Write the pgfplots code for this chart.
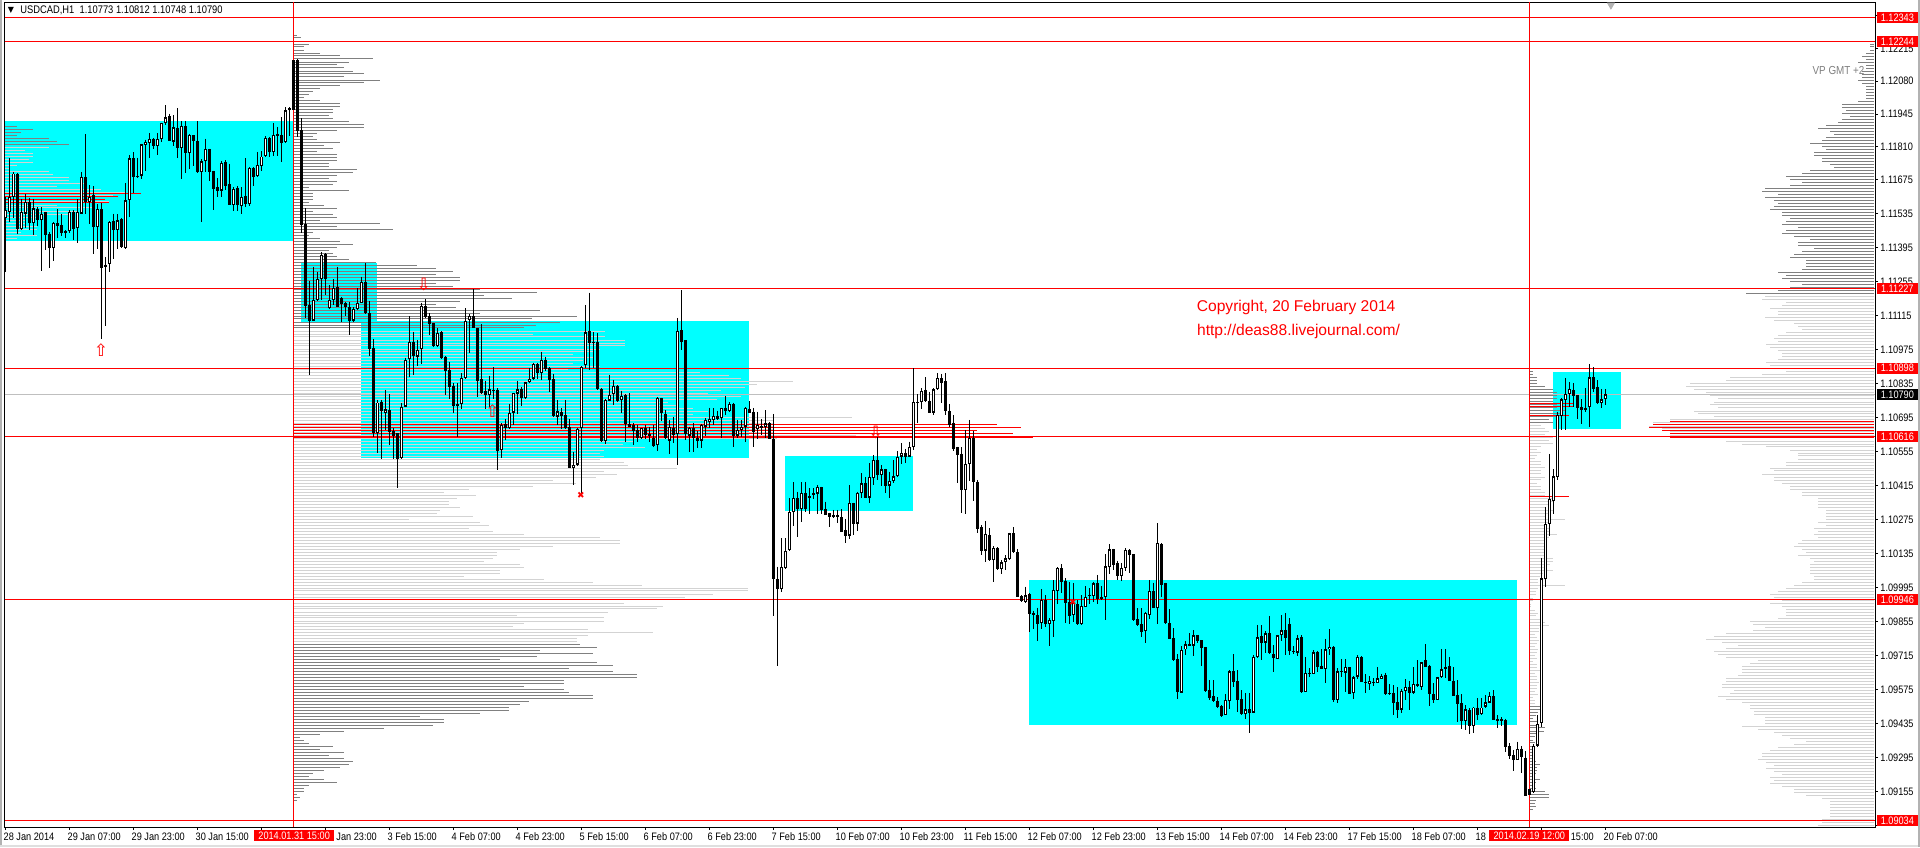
\documentclass[border=0pt]{standalone}
\usepackage{fontspec}
\usepackage{pgfplots}
\usepackage{pgfplotstable}
\pgfplotsset{compat=1.18}
\setmainfont[FakeStretch=0.85]{Liberation Sans}
\newfontfamily\plainf{Liberation Sans}
\newfontfamily\dej{DejaVu Sans}
\definecolor{profdark}{HTML}{808080}
\definecolor{proflight}{HTML}{D3D3D3}
\definecolor{boxcyan}{HTML}{00FFFF}
\definecolor{purered}{HTML}{FF0000}

% 1 px of the screenshot = 0.5pt, one H1 bar = 4 px
\pgfplotstableread{
i o h l c
0 1.11515 1.11604 1.11295 1.11549
1 1.11542 1.11762 1.11501 1.11604
2 1.11604 1.11707 1.11515 1.11700
3 1.11700 1.11703 1.11449 1.11471
4 1.11471 1.11597 1.11467 1.11540
5 1.11535 1.11615 1.11474 1.11584
6 1.11584 1.11601 1.11467 1.11496
7 1.11498 1.11597 1.11446 1.11556
8 1.11553 1.11563 1.11483 1.11508
9 1.11508 1.11563 1.11299 1.11535
10 1.11540 1.11542 1.11385 1.11446
11 1.11449 1.11460 1.11312 1.11394
12 1.11394 1.11501 1.11341 1.11498
13 1.11496 1.11553 1.11435 1.11485
14 1.11486 1.11533 1.11444 1.11457
15 1.11465 1.11467 1.11433 1.11457
16 1.11463 1.11549 1.11457 1.11540
17 1.11540 1.11549 1.11426 1.11471
18 1.11476 1.11593 1.11415 1.11540
19 1.11535 1.11707 1.11533 1.11686
20 1.11684 1.11862 1.11533 1.11581
21 1.11581 1.11652 1.11494 1.11604
22 1.11610 1.11648 1.11368 1.11481
23 1.11481 1.11574 1.11389 1.11552
24 1.11552 1.11579 1.11019 1.11312
25 1.11316 1.11357 1.11072 1.11325
26 1.11328 1.11504 1.11295 1.11501
27 1.11503 1.11535 1.11350 1.11468
28 1.11468 1.11533 1.11391 1.11507
29 1.11511 1.11515 1.11394 1.11397
30 1.11394 1.11659 1.11389 1.11589
31 1.11592 1.11776 1.11522 1.11762
32 1.11762 1.11788 1.11618 1.11686
33 1.11688 1.11765 1.11680 1.11685
34 1.11691 1.11822 1.11677 1.11820
35 1.11818 1.11840 1.11711 1.11828
36 1.11825 1.11865 1.11765 1.11844
37 1.11844 1.11847 1.11800 1.11813
38 1.11814 1.11865 1.11778 1.11844
39 1.11844 1.11909 1.11831 1.11906
40 1.11909 1.11982 1.11899 1.11931
41 1.11936 1.11947 1.11833 1.11835
42 1.11831 1.11940 1.11813 1.11890
43 1.11888 1.11969 1.11763 1.11806
44 1.11806 1.11917 1.11678 1.11894
45 1.11895 1.11917 1.11703 1.11785
46 1.11783 1.11861 1.11719 1.11857
47 1.11857 1.11858 1.11732 1.11835
48 1.11833 1.11916 1.11704 1.11707
49 1.11707 1.11758 1.11501 1.11750
50 1.11750 1.11844 1.11707 1.11799
51 1.11799 1.11802 1.11670 1.11707
52 1.11710 1.11712 1.11549 1.11637
53 1.11643 1.11680 1.11604 1.11627
54 1.11630 1.11752 1.11604 1.11744
55 1.11747 1.11755 1.11632 1.11648
56 1.11655 1.11741 1.11570 1.11571
57 1.11570 1.11643 1.11546 1.11638
58 1.11640 1.11649 1.11546 1.11570
59 1.11567 1.11643 1.11534 1.11605
60 1.11607 1.11762 1.11563 1.11574
61 1.11574 1.11725 1.11566 1.11722
62 1.11722 1.11725 1.11648 1.11686
63 1.11688 1.11789 1.11684 1.11737
64 1.11732 1.11792 1.11711 1.11770
65 1.11773 1.11854 1.11770 1.11846
66 1.11848 1.11851 1.11769 1.11789
67 1.11789 1.11906 1.11773 1.11857
68 1.11862 1.11892 1.11773 1.11854
69 1.11858 1.11931 1.11748 1.11826
70 1.11828 1.11972 1.11825 1.11960
71 1.11960 1.11972 1.11854 1.11968
72 1.12167 1.12167 1.11961 1.11961
73 1.12167 1.12170 1.11851 1.11876
74 1.11879 1.11927 1.11456 1.11487
75 1.11492 1.11556 1.11106 1.11155
76 1.11157 1.11258 1.10870 1.11094
77 1.11094 1.11317 1.11094 1.11179
78 1.11179 1.11296 1.11177 1.11264
79 1.11265 1.11376 1.11179 1.11364
80 1.11368 1.11372 1.11199 1.11265
81 1.11145 1.11241 1.11142 1.11179
82 1.11179 1.11264 1.11159 1.11230
83 1.11234 1.11317 1.11152 1.11152
84 1.11186 1.11193 1.11090 1.11163
85 1.11166 1.11172 1.11113 1.11152
86 1.11149 1.11172 1.11037 1.11094
87 1.11094 1.11149 1.11090 1.11142
88 1.11142 1.11227 1.11138 1.11166
89 1.11166 1.11275 1.11166 1.11255
90 1.11255 1.11330 1.11120 1.11124
91 1.11124 1.11177 1.10949 1.10978
92 1.10980 1.11017 1.10617 1.10630
93 1.10630 1.10768 1.10551 1.10757
94 1.10758 1.10768 1.10525 1.10720
95 1.10715 1.10809 1.10644 1.10729
96 1.10726 1.10792 1.10582 1.10637
97 1.10641 1.10651 1.10525 1.10619
98 1.10630 1.10630 1.10405 1.10525
99 1.10527 1.10754 1.10525 1.10740
100 1.10740 1.10942 1.10740 1.10932
101 1.10935 1.11113 1.10864 1.11005
102 1.11005 1.11049 1.10871 1.10949
103 1.10946 1.11015 1.10908 1.10973
104 1.10976 1.11168 1.10916 1.11155
105 1.11155 1.11182 1.11104 1.11108
106 1.11113 1.11124 1.11035 1.11080
107 1.11083 1.11086 1.10987 1.10990
108 1.10990 1.11063 1.10984 1.11045
109 1.11048 1.11050 1.10935 1.10939
110 1.10946 1.10949 1.10788 1.10888
111 1.10891 1.10925 1.10770 1.10820
112 1.10825 1.10836 1.10715 1.10743
113 1.10751 1.10836 1.10614 1.10743
114 1.10751 1.10877 1.10731 1.10857
115 1.10857 1.11145 1.10854 1.11094
116 1.11097 1.11120 1.10962 1.11113
117 1.11113 1.11223 1.11063 1.11064
118 1.11064 1.11065 1.10781 1.10844
119 1.10853 1.11080 1.10792 1.10795
120 1.10803 1.10847 1.10731 1.10788
121 1.10789 1.10868 1.10740 1.10811
122 1.10808 1.10902 1.10770 1.10806
123 1.10809 1.10816 1.10479 1.10558
124 1.10560 1.10671 1.10527 1.10666
125 1.10667 1.10688 1.10603 1.10654
126 1.10654 1.10751 1.10647 1.10713
127 1.10715 1.10795 1.10666 1.10795
128 1.10794 1.10847 1.10709 1.10811
129 1.10813 1.10822 1.10744 1.10777
130 1.10774 1.10843 1.10772 1.10840
131 1.10840 1.10898 1.10836 1.10855
132 1.10855 1.10921 1.10850 1.10914
133 1.10916 1.10921 1.10853 1.10877
134 1.10880 1.10967 1.10850 1.10932
135 1.10932 1.10946 1.10888 1.10894
136 1.10898 1.10902 1.10802 1.10850
137 1.10853 1.10875 1.10699 1.10703
138 1.10699 1.10768 1.10666 1.10720
139 1.10717 1.10733 1.10647 1.10702
140 1.10706 1.10768 1.10648 1.10654
141 1.10658 1.10688 1.10486 1.10489
142 1.10489 1.10555 1.10418 1.10499
143 1.10501 1.10651 1.10496 1.10647
144 1.10651 1.10908 1.10370 1.10905
145 1.10910 1.11159 1.10898 1.11046
146 1.11050 1.11209 1.10891 1.11004
147 1.11005 1.11046 1.10898 1.11004
148 1.11005 1.11045 1.10809 1.10811
149 1.10811 1.10816 1.10596 1.10600
150 1.10597 1.10770 1.10585 1.10768
151 1.10765 1.10871 1.10762 1.10787
152 1.10792 1.10850 1.10747 1.10825
153 1.10825 1.10829 1.10761 1.10763
154 1.10768 1.10806 1.10715 1.10784
155 1.10788 1.10792 1.10596 1.10667
156 1.10667 1.10795 1.10658 1.10658
157 1.10665 1.10671 1.10580 1.10641
158 1.10644 1.10665 1.10596 1.10610
159 1.10610 1.10651 1.10607 1.10651
160 1.10651 1.10665 1.10607 1.10623
161 1.10627 1.10655 1.10596 1.10619
162 1.10612 1.10665 1.10575 1.10578
163 1.10582 1.10778 1.10557 1.10774
164 1.10774 1.10777 1.10682 1.10713
165 1.10708 1.10726 1.10606 1.10610
166 1.10600 1.10685 1.10545 1.10655
167 1.10654 1.10699 1.10592 1.10623
168 1.10626 1.11105 1.10499 1.11051
169 1.11055 1.11220 1.10973 1.11006
170 1.11014 1.11014 1.10602 1.10627
171 1.10621 1.10658 1.10555 1.10654
172 1.10654 1.10671 1.10555 1.10610
173 1.10612 1.10641 1.10570 1.10600
174 1.10600 1.10669 1.10568 1.10665
175 1.10658 1.10692 1.10619 1.10685
176 1.10677 1.10736 1.10651 1.10688
177 1.10685 1.10733 1.10665 1.10702
178 1.10702 1.10724 1.10685 1.10689
179 1.10692 1.10736 1.10610 1.10735
180 1.10735 1.10784 1.10706 1.10724
181 1.10724 1.10758 1.10719 1.10751
182 1.10751 1.10757 1.10575 1.10619
183 1.10621 1.10685 1.10610 1.10644
184 1.10644 1.10685 1.10617 1.10655
185 1.10658 1.10737 1.10596 1.10735
186 1.10729 1.10763 1.10713 1.10715
187 1.10718 1.10735 1.10575 1.10637
188 1.10647 1.10719 1.10606 1.10665
189 1.10660 1.10688 1.10623 1.10654
190 1.10655 1.10726 1.10610 1.10671
191 1.10671 1.10678 1.10606 1.10606
192 1.10606 1.10710 1.09878 1.10029
193 1.10029 1.10081 1.09674 1.09988
194 1.09988 1.10198 1.09978 1.10078
195 1.10077 1.10198 1.10072 1.10147
196 1.10150 1.10363 1.10147 1.10305
197 1.10305 1.10428 1.10249 1.10363
198 1.10363 1.10390 1.10205 1.10319
199 1.10319 1.10428 1.10265 1.10383
200 1.10383 1.10428 1.10305 1.10317
201 1.10372 1.10404 1.10298 1.10365
202 1.10383 1.10404 1.10358 1.10376
203 1.10382 1.10418 1.10298 1.10408
204 1.10408 1.10411 1.10298 1.10315
205 1.10317 1.10349 1.10294 1.10295
206 1.10301 1.10304 1.10246 1.10287
207 1.10293 1.10315 1.10280 1.10286
208 1.10290 1.10315 1.10262 1.10287
209 1.10284 1.10317 1.10225 1.10225
210 1.10231 1.10278 1.10180 1.10209
211 1.10209 1.10417 1.10195 1.10342
212 1.10342 1.10345 1.10212 1.10257
213 1.10258 1.10390 1.10229 1.10383
214 1.10383 1.10466 1.10363 1.10424
215 1.10424 1.10449 1.10363 1.10365
216 1.10365 1.10507 1.10345 1.10449
217 1.10445 1.10541 1.10418 1.10520
218 1.10520 1.10616 1.10438 1.10459
219 1.10460 1.10500 1.10413 1.10482
220 1.10483 1.10485 1.10386 1.10415
221 1.10415 1.10472 1.10365 1.10433
222 1.10433 1.10520 1.10427 1.10453
223 1.10453 1.10557 1.10449 1.10534
224 1.10534 1.10589 1.10504 1.10548
225 1.10548 1.10566 1.10509 1.10534
226 1.10534 1.10596 1.10531 1.10575
227 1.10573 1.10898 1.10562 1.10758
228 1.10758 1.10792 1.10674 1.10757
229 1.10758 1.10816 1.10730 1.10806
230 1.10809 1.10861 1.10761 1.10765
231 1.10763 1.10802 1.10713 1.10715
232 1.10715 1.10816 1.10706 1.10811
233 1.10811 1.10877 1.10809 1.10857
234 1.10857 1.10875 1.10757 1.10839
235 1.10846 1.10877 1.10706 1.10724
236 1.10722 1.10751 1.10655 1.10665
237 1.10671 1.10706 1.10559 1.10566
238 1.10573 1.10575 1.10424 1.10542
239 1.10545 1.10573 1.10304 1.10397
240 1.10398 1.10644 1.10298 1.10503
241 1.10503 1.10685 1.10435 1.10611
242 1.10611 1.10641 1.10353 1.10431
243 1.10430 1.10438 1.10221 1.10238
244 1.10243 1.10252 1.10129 1.10147
245 1.10147 1.10270 1.10101 1.10214
246 1.10211 1.10239 1.10106 1.10108
247 1.10108 1.10166 1.10019 1.10156
248 1.10156 1.10160 1.10067 1.10071
249 1.10071 1.10108 1.10051 1.10099
250 1.10099 1.10129 1.10067 1.10115
251 1.10111 1.10221 1.10108 1.10218
252 1.10218 1.10243 1.10136 1.10140
253 1.10140 1.10154 1.09955 1.09957
254 1.09960 1.09964 1.09937 1.09939
255 1.09937 1.09999 1.09933 1.09963
256 1.09968 1.09971 1.09813 1.09886
257 1.09890 1.09900 1.09823 1.09882
258 1.09880 1.09912 1.09776 1.09846
259 1.09849 1.09988 1.09826 1.09944
260 1.09944 1.09963 1.09834 1.09845
261 1.09846 1.09868 1.09756 1.09860
262 1.09859 1.10026 1.09793 1.09985
263 1.09982 1.10078 1.09927 1.10074
264 1.10074 1.10092 1.09974 1.10019
265 1.10022 1.10033 1.09848 1.09933
266 1.09934 1.10016 1.09845 1.09879
267 1.09883 1.10012 1.09854 1.09930
268 1.09927 1.09944 1.09841 1.09845
269 1.09845 1.09964 1.09841 1.09920
270 1.09916 1.10001 1.09913 1.09957
271 1.09963 1.09992 1.09927 1.09964
272 1.09961 1.10019 1.09934 1.10012
273 1.10012 1.10047 1.09927 1.09948
274 1.09955 1.10001 1.09944 1.09948
275 1.09957 1.10133 1.09861 1.10082
276 1.10078 1.10174 1.10051 1.10152
277 1.10152 1.10155 1.10067 1.10089
278 1.10096 1.10106 1.10026 1.10044
279 1.10044 1.10097 1.10023 1.10074
280 1.10077 1.10156 1.10064 1.10148
281 1.10148 1.10152 1.10056 1.10130
282 1.10132 1.10133 1.09858 1.09861
283 1.09865 1.09909 1.09837 1.09842
284 1.09843 1.09909 1.09793 1.09813
285 1.09815 1.09896 1.09768 1.09889
286 1.09883 1.10026 1.09864 1.09979
287 1.09979 1.10015 1.09909 1.09912
288 1.09909 1.10259 1.09845 1.10177
289 1.10173 1.10177 1.09957 1.10007
290 1.10012 1.10015 1.09845 1.09848
291 1.09848 1.09905 1.09782 1.09784
292 1.09786 1.09827 1.09694 1.09697
293 1.09701 1.09720 1.09536 1.09566
294 1.09562 1.09754 1.09559 1.09736
295 1.09740 1.09773 1.09719 1.09761
296 1.09761 1.09806 1.09754 1.09756
297 1.09756 1.09819 1.09713 1.09798
298 1.09798 1.09800 1.09765 1.09776
299 1.09778 1.09779 1.09672 1.09747
300 1.09750 1.09751 1.09566 1.09569
301 1.09572 1.09614 1.09532 1.09541
302 1.09547 1.09614 1.09525 1.09528
303 1.09526 1.09543 1.09498 1.09504
304 1.09507 1.09510 1.09463 1.09466
305 1.09471 1.09557 1.09469 1.09530
306 1.09526 1.09655 1.09493 1.09650
307 1.09650 1.09720 1.09587 1.09607
308 1.09609 1.09655 1.09481 1.09532
309 1.09535 1.09573 1.09470 1.09476
310 1.09476 1.09559 1.09454 1.09493
311 1.09493 1.09559 1.09397 1.09477
312 1.09480 1.09717 1.09477 1.09708
313 1.09710 1.09841 1.09706 1.09790
314 1.09794 1.09839 1.09697 1.09768
315 1.09768 1.09815 1.09727 1.09806
316 1.09806 1.09878 1.09720 1.09724
317 1.09720 1.09758 1.09649 1.09705
318 1.09702 1.09800 1.09699 1.09798
319 1.09798 1.09882 1.09775 1.09819
320 1.09819 1.09889 1.09717 1.09788
321 1.09845 1.09868 1.09717 1.09735
322 1.09732 1.09754 1.09720 1.09731
323 1.09727 1.09800 1.09713 1.09786
324 1.09790 1.09798 1.09562 1.09563
325 1.09566 1.09710 1.09563 1.09645
326 1.09645 1.09662 1.09625 1.09639
327 1.09641 1.09737 1.09639 1.09728
328 1.09728 1.09733 1.09648 1.09669
329 1.09674 1.09740 1.09659 1.09661
330 1.09661 1.09785 1.09603 1.09740
331 1.09740 1.09823 1.09717 1.09752
332 1.09752 1.09754 1.09525 1.09534
333 1.09534 1.09662 1.09521 1.09650
334 1.09650 1.09700 1.09625 1.09651
335 1.09645 1.09699 1.09566 1.09666
336 1.09666 1.09667 1.09556 1.09556
337 1.09559 1.09630 1.09536 1.09625
338 1.09628 1.09717 1.09619 1.09707
339 1.09707 1.09713 1.09606 1.09607
340 1.09608 1.09637 1.09562 1.09602
341 1.09599 1.09630 1.09573 1.09612
342 1.09607 1.09621 1.09589 1.09600
343 1.09604 1.09666 1.09601 1.09621
344 1.09619 1.09641 1.09617 1.09632
345 1.09633 1.09645 1.09552 1.09556
346 1.09559 1.09597 1.09551 1.09558
347 1.09559 1.09593 1.09470 1.09521
348 1.09523 1.09584 1.09459 1.09492
349 1.09492 1.09578 1.09479 1.09571
350 1.09570 1.09617 1.09532 1.09584
351 1.09584 1.09611 1.09490 1.09562
352 1.09562 1.09667 1.09558 1.09596
353 1.09596 1.09696 1.09586 1.09591
354 1.09586 1.09689 1.09573 1.09687
355 1.09696 1.09761 1.09666 1.09669
356 1.09674 1.09676 1.09507 1.09556
357 1.09556 1.09600 1.09521 1.09533
358 1.09534 1.09628 1.09532 1.09625
359 1.09625 1.09740 1.09622 1.09658
360 1.09666 1.09741 1.09621 1.09659
361 1.09670 1.09707 1.09610 1.09611
362 1.09610 1.09666 1.09547 1.09549
363 1.09552 1.09614 1.09442 1.09516
364 1.09518 1.09555 1.09412 1.09446
365 1.09446 1.09511 1.09408 1.09493
366 1.09490 1.09497 1.09392 1.09426
367 1.09426 1.09504 1.09397 1.09501
368 1.09501 1.09540 1.09449 1.09471
369 1.09475 1.09541 1.09470 1.09501
370 1.09504 1.09551 1.09501 1.09522
371 1.09521 1.09564 1.09518 1.09548
372 1.09548 1.09573 1.09449 1.09449
373 1.09452 1.09470 1.09416 1.09445
374 1.09452 1.09460 1.09424 1.09445
375 1.09448 1.09455 1.09317 1.09339
376 1.09341 1.09354 1.09291 1.09302
377 1.09304 1.09326 1.09241 1.09286
378 1.09286 1.09361 1.09285 1.09332
379 1.09332 1.09342 1.09230 1.09298
380 1.09295 1.09320 1.09136 1.09136
381 1.09164 1.09164 1.09140 1.09142
382 1.09154 1.09350 1.09151 1.09342
383 1.09344 1.09470 1.09339 1.09435
384 1.09438 1.10117 1.09422 1.10033
385 1.10029 1.10327 1.09998 1.10257
386 1.10257 1.10545 1.10208 1.10359
387 1.10352 1.10483 1.10298 1.10453
388 1.10451 1.10718 1.10438 1.10705
389 1.10702 1.10775 1.10644 1.10770
390 1.10767 1.10858 1.10644 1.10792
391 1.10792 1.10841 1.10738 1.10812
392 1.10807 1.10837 1.10738 1.10785
393 1.10788 1.10788 1.10689 1.10735
394 1.10738 1.10771 1.10668 1.10727
395 1.10733 1.10816 1.10718 1.10727
396 1.10737 1.10915 1.10657 1.10860
397 1.10860 1.10903 1.10800 1.10812
398 1.10819 1.10849 1.10750 1.10753
399 1.10756 1.10812 1.10734 1.10770
400 1.10773 1.10812 1.10748 1.10790
}\candles

% volume profile opened 31 Jan 15:00, rows top to bottom: price, length in px
\pgfplotstableread{
p v
1.12270 4
1.12258 8
1.12245 16
1.12233 16
1.12221 11
1.12208 11
1.12196 27
1.12184 47
1.12172 80
1.12159 56
1.12147 44
1.12135 51
1.12122 60
1.12110 71
1.12098 51
1.12085 87
1.12073 71
1.12061 47
1.12048 27
1.12036 20
1.12024 16
1.12011 11
1.11999 27
1.11987 47
1.11975 47
1.11962 40
1.11950 40
1.11938 36
1.11925 40
1.11913 56
1.11901 71
1.11888 71
1.11876 44
1.11864 24
1.11851 20
1.11839 24
1.11827 47
1.11815 31
1.11802 40
1.11790 24
1.11778 44
1.11765 44
1.11753 44
1.11741 36
1.11728 36
1.11716 64
1.11704 60
1.11691 44
1.11679 36
1.11667 44
1.11655 40
1.11642 16
1.11630 56
1.11618 20
1.11605 20
1.11593 20
1.11581 16
1.11568 31
1.11556 44
1.11544 20
1.11531 40
1.11519 44
1.11507 27
1.11495 87
1.11482 44
1.11470 100
1.11458 20
1.11445 16
1.11433 27
1.11421 47
1.11408 60
1.11396 44
1.11384 36
1.11371 40
1.11359 44
1.11347 56
1.11335 83
1.11322 124
1.11310 143
1.11298 160
1.11285 143
1.11273 167
1.11261 167
1.11248 143
1.11236 160
1.11224 187
1.11211 244
1.11199 191
1.11187 219
1.11174 167
1.11162 143
1.11150 163
1.11137 247
1.11125 187
1.11113 284
1.11101 239
1.11088 267
1.11076 243
1.11064 231
1.11051 312
1.11039 240
1.11027 312
1.11014 332
1.11002 332
1.10990 332
1.10977 307
1.10965 300
1.10953 280
1.10941 300
1.10928 290
1.10916 280
1.10904 307
1.10891 275
1.10879 407
1.10867 436
1.10854 448
1.10842 500
1.10830 464
1.10817 452
1.10805 428
1.10793 415
1.10781 448
1.10768 424
1.10756 375
1.10744 383
1.10731 400
1.10719 415
1.10707 400
1.10694 559
1.10682 480
1.10670 480
1.10657 480
1.10645 480
1.10633 480
1.10621 563
1.10608 484
1.10596 340
1.10584 330
1.10571 352
1.10559 311
1.10547 307
1.10534 311
1.10522 307
1.10510 331
1.10497 335
1.10485 384
1.10473 311
1.10461 324
1.10448 303
1.10436 260
1.10424 283
1.10411 240
1.10399 176
1.10387 151
1.10374 183
1.10362 164
1.10350 156
1.10337 156
1.10325 167
1.10313 147
1.10301 144
1.10288 180
1.10276 116
1.10264 187
1.10251 196
1.10239 176
1.10227 200
1.10214 231
1.10202 307
1.10190 327
1.10177 327
1.10165 260
1.10153 227
1.10141 204
1.10128 204
1.10116 200
1.10104 191
1.10091 227
1.10079 231
1.10067 207
1.10054 207
1.10042 171
1.10030 251
1.10017 300
1.10005 349
1.09993 455
1.09981 455
1.09968 420
1.09956 392
1.09944 427
1.09931 331
1.09919 370
1.09907 364
1.09894 315
1.09882 224
1.09870 311
1.09857 311
1.09845 231
1.09833 220
1.09821 295
1.09808 360
1.09796 295
1.09784 284
1.09771 284
1.09759 287
1.09747 304
1.09734 247
1.09722 300
1.09710 244
1.09697 207
1.09685 304
1.09673 320
1.09661 276
1.09648 320
1.09636 344
1.09624 344
1.09611 271
1.09599 271
1.09587 231
1.09574 271
1.09562 276
1.09550 300
1.09537 300
1.09525 236
1.09513 227
1.09501 216
1.09488 216
1.09476 187
1.09464 127
1.09451 151
1.09439 151
1.09427 140
1.09414 91
1.09402 51
1.09390 27
1.09377 7
1.09365 11
1.09353 16
1.09341 40
1.09328 27
1.09316 51
1.09304 36
1.09291 51
1.09279 60
1.09267 56
1.09254 47
1.09242 31
1.09230 20
1.09217 16
1.09205 31
1.09193 44
1.09181 16
1.09168 11
1.09156 11
1.09144 4
1.09131 7
1.09119 4
}\profa

% whole-range profile at the right edge
\pgfplotstableread{
p v
1.12233 4
1.12221 4
1.12208 4
1.12196 8
1.12183 12
1.12171 8
1.12159 16
1.12146 8
1.12134 8
1.12122 12
1.12109 12
1.12097 12
1.12084 16
1.12072 12
1.12060 8
1.12047 8
1.12035 8
1.12022 8
1.12010 8
1.11998 16
1.11985 32
1.11973 32
1.11961 28
1.11948 32
1.11936 24
1.11923 32
1.11911 36
1.11899 48
1.11886 56
1.11874 44
1.11861 40
1.11849 48
1.11837 52
1.11824 64
1.11812 52
1.11800 48
1.11787 60
1.11775 60
1.11762 52
1.11750 52
1.11738 44
1.11725 40
1.11713 64
1.11701 72
1.11688 88
1.11676 84
1.11663 72
1.11651 84
1.11639 109
1.11626 112
1.11614 96
1.11601 109
1.11589 100
1.11577 96
1.11564 100
1.11552 104
1.11540 92
1.11527 92
1.11515 84
1.11502 88
1.11490 92
1.11478 76
1.11465 88
1.11453 92
1.11440 80
1.11428 64
1.11416 76
1.11403 76
1.11391 60
1.11379 72
1.11366 80
1.11354 84
1.11341 68
1.11329 68
1.11317 68
1.11304 72
1.11292 96
1.11280 88
1.11267 92
1.11255 84
1.11242 72
1.11230 84
1.11218 96
1.11205 128
1.11193 109
1.11181 112
1.11168 88
1.11156 92
1.11143 104
1.11131 96
1.11119 96
1.11106 109
1.11094 100
1.11081 80
1.11069 76
1.11057 72
1.11044 88
1.11032 96
1.11019 100
1.11007 96
1.10995 108
1.10982 104
1.10970 96
1.10958 92
1.10945 92
1.10933 96
1.10920 108
1.10908 104
1.10896 96
1.10883 88
1.10871 112
1.10859 144
1.10846 148
1.10834 184
1.10821 188
1.10809 180
1.10797 168
1.10784 164
1.10772 156
1.10759 160
1.10747 164
1.10735 156
1.10722 180
1.10710 176
1.10698 160
1.10685 204
1.10673 221
1.10660 225
1.10648 212
1.10636 204
1.10623 204
1.10611 168
1.10598 148
1.10586 132
1.10574 108
1.10561 84
1.10549 76
1.10537 76
1.10524 76
1.10512 88
1.10499 88
1.10487 104
1.10475 100
1.10462 112
1.10450 100
1.10437 100
1.10425 92
1.10413 84
1.10400 84
1.10388 72
1.10376 72
1.10363 56
1.10351 56
1.10338 56
1.10326 56
1.10314 48
1.10301 48
1.10289 48
1.10277 48
1.10264 56
1.10252 48
1.10239 60
1.10227 56
1.10215 60
1.10202 56
1.10190 72
1.10177 76
1.10165 80
1.10153 72
1.10140 68
1.10128 76
1.10116 64
1.10103 60
1.10091 64
1.10078 64
1.10066 64
1.10054 64
1.10041 60
1.10029 60
1.10017 72
1.10004 80
1.09992 88
1.09979 96
1.09967 104
1.09955 100
1.09942 92
1.09930 104
1.09918 92
1.09905 88
1.09893 88
1.09880 88
1.09868 96
1.09856 124
1.09843 121
1.09831 109
1.09818 121
1.09806 148
1.09794 160
1.09781 168
1.09769 152
1.09757 136
1.09744 148
1.09732 160
1.09719 156
1.09707 148
1.09695 116
1.09682 124
1.09670 132
1.09657 132
1.09645 132
1.09633 136
1.09620 148
1.09608 148
1.09596 152
1.09583 152
1.09571 140
1.09558 144
1.09546 156
1.09534 148
1.09521 132
1.09509 124
1.09497 124
1.09484 120
1.09472 120
1.09459 109
1.09447 109
1.09435 109
1.09422 132
1.09410 116
1.09398 100
1.09385 92
1.09373 84
1.09360 68
1.09348 80
1.09336 96
1.09323 104
1.09311 112
1.09298 112
1.09286 116
1.09274 108
1.09261 100
1.09249 108
1.09237 100
1.09224 92
1.09212 104
1.09199 100
1.09187 104
1.09175 92
1.09162 80
1.09150 80
1.09137 68
1.09125 52
1.09113 44
1.09100 44
1.09088 44
1.09076 44
1.09063 44
1.09051 44
1.09038 52
1.09026 52
1.09014 56
}\profc

% small profile opened 19 Feb 12:00
\pgfplotstableread{
p v
1.10886 4
1.10874 4
1.10861 8
1.10849 8
1.10836 8
1.10824 16
1.10811 24
1.10799 28
1.10786 28
1.10774 28
1.10762 24
1.10749 28
1.10737 28
1.10724 36
1.10712 32
1.10699 28
1.10687 20
1.10674 24
1.10662 12
1.10649 16
1.10637 20
1.10625 16
1.10612 24
1.10600 20
1.10587 24
1.10575 12
1.10562 8
1.10550 12
1.10537 8
1.10525 6
1.10513 12
1.10500 12
1.10488 16
1.10475 12
1.10463 12
1.10450 16
1.10438 12
1.10425 8
1.10413 12
1.10400 12
1.10388 16
1.10376 16
1.10363 24
1.10351 24
1.10338 20
1.10326 16
1.10313 24
1.10301 20
1.10288 16
1.10276 36
1.10264 20
1.10251 16
1.10239 20
1.10226 20
1.10214 28
1.10201 20
1.10189 16
1.10176 16
1.10164 16
1.10151 16
1.10139 16
1.10127 16
1.10114 24
1.10102 24
1.10089 21
1.10077 17
1.10064 24
1.10052 14
1.10039 11
1.10027 9
1.10015 9
1.10002 36
1.09990 9
1.09977 7
1.09965 7
1.09952 4
1.09940 4
1.09927 2
1.09915 2
1.09902 6
1.09890 9
1.09878 7
1.09865 11
1.09853 16
1.09840 20
1.09828 10
1.09815 10
1.09803 6
1.09790 8
1.09778 10
1.09766 8
1.09753 6
1.09741 9
1.09728 8
1.09716 6
1.09703 8
1.09691 4
1.09678 8
1.09666 8
1.09653 11
1.09641 6
1.09629 8
1.09616 8
1.09604 10
1.09591 8
1.09579 8
1.09566 6
1.09554 9
1.09541 4
1.09529 6
1.09517 6
1.09504 11
1.09492 11
1.09479 9
1.09467 7
1.09454 4
1.09442 9
1.09429 9
1.09417 16
1.09404 15
1.09392 9
1.09380 6
1.09367 4
1.09355 6
1.09342 4
1.09330 4
1.09317 4
1.09305 4
1.09292 4
1.09280 7
1.09268 11
1.09255 8
1.09243 8
1.09230 7
1.09218 6
1.09205 11
1.09193 7
1.09180 6
1.09168 7
1.09155 16
1.09143 20
1.09131 20
1.09118 7
1.09106 6
1.09093 7
1.09081 4
}\profb

% profile of the first days, at the left edge
\pgfplotstableread{
p v
1.11895 12
1.11883 28
1.11870 16
1.11858 12
1.11845 44
1.11833 52
1.11820 64
1.11808 44
1.11795 20
1.11783 28
1.11770 28
1.11758 24
1.11745 28
1.11733 12
1.11720 4
1.11708 44
1.11695 48
1.11683 64
1.11670 64
1.11658 80
1.11645 52
1.11633 96
1.11620 120
1.11608 108
1.11595 100
1.11583 104
1.11570 52
1.11558 88
1.11545 72
1.11533 64
1.11520 32
1.11508 20
1.11495 20
1.11483 32
1.11470 32
1.11458 16
1.11445 32
1.11433 12
}\profz

% point of control rows (red): price, length in px
\pgfplotstableread{
p v
1.11618 136
1.11606 113
1.11593 100
1.11581 104
}\redz
\pgfplotstableread{
p v
1.10667 704
1.10655 728
1.10642 684
1.10630 720
1.10618 740
1.10613 740
}\reda
\pgfplotstableread{
p v
1.10752 44
1.10739 44
1.10704 40
1.10370 40
}\redb
\pgfplotstableread{
p v
1.10679 204
1.10667 221
1.10655 225
1.10642 212
1.10630 204
1.10618 204
1.10613 204
}\redc

% one path per series (with gaps), one path per segment runs out of memory
\def\wickpath{}\def\bodypath{}\def\hollowpath{}
\pgfplotsforeachungrouped \rr in {0,...,400}{%
  \pgfplotstablegetelem{\rr}{o}\of\candles\let\cO\pgfplotsretval
  \pgfplotstablegetelem{\rr}{h}\of\candles\let\cH\pgfplotsretval
  \pgfplotstablegetelem{\rr}{l}\of\candles\let\cL\pgfplotsretval
  \pgfplotstablegetelem{\rr}{c}\of\candles\let\cC\pgfplotsretval
  \edef\wickpath{\wickpath(\rr,\cH)(\rr,\cL)(\rr,nan)}%
  \pgfmathsetmacro\cD{abs(\cO-\cC)}%
  \pgfmathtruncatemacro\isdoji{\cD<0.00004}%
  \ifnum\isdoji=1
    \pgfmathsetmacro\bA{max(\cO,\cC)+0.00002}%
    \pgfmathsetmacro\bB{min(\cO,\cC)-0.00002}%
  \else
    \let\bA\cO\let\bB\cC
  \fi
  \edef\bodypath{\bodypath(\rr,\bA)(\rr,\bB)(\rr,nan)}%
  \pgfmathtruncatemacro\ishollow{\cC-\cO>0.00009}%
  \ifnum\ishollow=1
    \pgfmathsetmacro\bA{\cC-0.00004}%
    \pgfmathsetmacro\bB{\cO+0.00004}%
    \edef\hollowpath{\hollowpath(\rr,\bA)(\rr,\bB)(\rr,nan)}%
  \fi
}
% rows of a profile: #1 result, #2 table, #3 x of the base, #4 + or -, #5 #6 first and last row
\newcommand\buildrows[6]{%
  \def#1{}%
  \pgfplotsforeachungrouped \rr in {#5,...,#6}{%
    \pgfplotstablegetelem{\rr}{p}\of#2\let\pP\pgfplotsretval
    \pgfplotstablegetelem{\rr}{v}\of#2%
    \pgfmathsetmacro\xE{#3#4\pgfplotsretval/4}%
    \edef#1{#1(#3,\pP)(\xE,\pP)(#3,nan)}%
  }%
}
\buildrows\zDark\profz{-0.2}{+}{0}{6}
\buildrows\zLight\profz{-0.2}{+}{7}{37}
\buildrows\aDarkA\profa{72}{+}{0}{98}
\buildrows\aLight\profa{72}{+}{99}{203}
\buildrows\aDarkB\profa{72}{+}{204}{256}
\buildrows\bDarkA\profb{381}{+}{0}{17}
\buildrows\bLight\profb{381}{+}{18}{110}
\buildrows\bDarkB\profb{381}{+}{111}{145}
\buildrows\cDark\profc{467.2}{-}{0}{83}
\buildrows\cLight\profc{467.2}{-}{84}{260}
\buildrows\zRed\redz{-0.2}{+}{0}{3}
\buildrows\aRed\reda{72}{+}{0}{5}
\buildrows\bRed\redb{381}{+}{0}{3}
\buildrows\cRed\redc{467.2}{-}{0}{6}
\newcommand\segplot[3]{%
  \edef\tmpplot{\noexpand\addplot[forget plot, mark=none, unbounded coords=jump, color=#1, line width=#2] coordinates {#3};}%
  \tmpplot
}

\pgfplotsset{
  cbox/.style={fill=boxcyan, draw=none, forget plot},
  hline/.style={color=purered, line width=0.5pt, forget plot},
}

\begin{document}
\begin{tikzpicture}
\path[use as bounding box, fill=white] (0,0) rectangle (960pt,423.5pt);
\fill[gray!60] (0,0) rectangle (1pt,423.5pt);
\fill[gray!25] (0,0) rectangle (960pt,1pt);
\fill[gray!60] (959.2pt,0) rectangle (960pt,423.5pt);
\begin{axis}[
  at={(2.25pt,10pt)}, anchor=south west, scale only axis,
  width=935.25pt, height=412.35pt,
  xmin=-0.21, xmax=467.42, ymin=1.09009, ymax=1.12405,
  clip mode=individual,
  axis line style={line width=0.5pt},
  tick style={black, line width=0.5pt},
  tick align=outside, major tick length=1.5pt,
  xtick pos=lower, ytick pos=right, yticklabel pos=right,
  xtick={0,16,...,400},
  xticklabels={28 Jan 2014,29 Jan 07:00,29 Jan 23:00,30 Jan 15:00,,31 Jan 23:00,3 Feb 15:00,4 Feb 07:00,4 Feb 23:00,5 Feb 15:00,6 Feb 07:00,6 Feb 23:00,7 Feb 15:00,10 Feb 07:00,10 Feb 23:00,11 Feb 15:00,12 Feb 07:00,12 Feb 23:00,13 Feb 15:00,14 Feb 07:00,14 Feb 23:00,17 Feb 15:00,18 Feb 07:00,18 Feb 23:00,19 Feb 15:00,20 Feb 07:00},
  x tick label style={font=\fontsize{5.4pt}{6pt}\selectfont, anchor=north west, inner sep=0pt, xshift=-1pt, yshift=-1.3pt},
  ytick={1.09015,1.09155,1.09295,1.09435,1.09575,1.09715,1.09855,1.09995,1.10135,1.10275,1.10415,1.10555,1.10695,1.10835,1.10975,1.11115,1.11255,1.11395,1.11535,1.11675,1.11810,1.11945,1.12080,1.12215,1.12350},
  yticklabels={,1.09155,1.09295,1.09435,1.09575,1.09715,1.09855,1.09995,1.10135,1.10275,1.10415,1.10555,1.10695,1.10835,1.10975,1.11115,1.11255,1.11395,1.11535,1.11675,1.11810,1.11945,1.12080,1.12215,},
  y tick label style={font=\fontsize{5.4pt}{6pt}\selectfont, anchor=west, inner sep=0pt, xshift=1pt},
  after end axis/.code={
    \tikzset{pl/.style={inner sep=0pt, minimum width=20.5pt, minimum height=5.5pt, text=white, font=\fontsize{5.4pt}{6pt}\selectfont}}
    \foreach \v in {1.12343,1.12244,1.11227,1.10898,1.10616,1.09946,1.09034}
      \node[pl, fill=purered] at (axis cs:473,\v) {\v};
    \node[pl, fill=black] at (axis cs:473,1.10790) {1.10790};
    \node[pl, fill=purered, minimum width=40pt] at (axis cs:72.2,1.08972) {2014.01.31 15:00};
    \node[pl, fill=purered, minimum width=40pt] at (axis cs:381,1.08972) {2014.02.19 12:00};
    \node[anchor=west, inner sep=0pt, font=\fontsize{5.5pt}{6pt}\selectfont] at (axis cs:3.67,1.12370) {USDCAD,H1~~1.10773 1.10812 1.10748 1.10790};
    \node[inner sep=0pt, font=\dej\fontsize{4pt}{5pt}\selectfont] at (axis cs:1.4,1.12370) {▼};
    \node[text=purered, font=\plainf\fontsize{7.8pt}{9pt}\selectfont] at (axis cs:322.7,1.11147) {Copyright, 20 February 2014};
    \node[text=purered, font=\plainf\fontsize{7.8pt}{9pt}\selectfont] at (axis cs:323.3,1.11050) {http://deas88.livejournal.com/};
    \node[text=gray, font=\fontsize{5.8pt}{6pt}\selectfont] at (axis cs:458.3,1.12126) {VP GMT +2};
  },
]
% value-area boxes
\addplot[cbox] coordinates {(-0.2,1.11916) (72,1.11916) (72,1.11422) (-0.2,1.11422)};
\addplot[cbox] coordinates {(88.9,1.11092) (185.9,1.11092) (185.9,1.10528) (88.9,1.10528)};
\addplot[cbox] coordinates {(73.9,1.11330) (92.9,1.11330) (92.9,1.11083) (73.9,1.11083)};
\addplot[cbox] coordinates {(194.9,1.10537) (226.9,1.10537) (226.9,1.10310) (194.9,1.10310)};
\addplot[cbox] coordinates {(255.9,1.10026) (377.9,1.10026) (377.9,1.09429) (255.9,1.09429)};
\addplot[cbox] coordinates {(386.9,1.10882) (403.9,1.10882) (403.9,1.10649) (386.9,1.10649)};

% volume profiles
\segplot{profdark}{0.5pt}{\zDark}
\segplot{proflight}{0.5pt}{\zLight}
\segplot{profdark}{0.5pt}{\aDarkA}
\segplot{proflight}{0.5pt}{\aLight}
\segplot{profdark}{0.5pt}{\aDarkB}
\segplot{profdark}{0.5pt}{\bDarkA}
\segplot{proflight}{0.5pt}{\bLight}
\segplot{profdark}{0.5pt}{\bDarkB}
\segplot{profdark}{0.5pt}{\cDark}
\segplot{proflight}{0.5pt}{\cLight}
\segplot{purered}{0.5pt}{\zRed}
\segplot{purered}{0.5pt}{\aRed}
\segplot{purered}{0.5pt}{\bRed}
\segplot{purered}{0.5pt}{\cRed}

% level lines
\addplot[forget plot, color=black!25, line width=0.5pt] coordinates {(-0.21,1.10790) (467.42,1.10790)};
\addplot[hline] coordinates {(-0.21,1.12343) (467.42,1.12343)};
\addplot[hline] coordinates {(-0.21,1.12244) (467.42,1.12244)};
\addplot[hline] coordinates {(-0.21,1.11227) (467.42,1.11227)};
\addplot[hline] coordinates {(-0.21,1.10898) (467.42,1.10898)};
\addplot[hline] coordinates {(-0.21,1.10616) (467.42,1.10616)};
\addplot[hline] coordinates {(-0.21,1.09946) (467.42,1.09946)};
\addplot[hline] coordinates {(-0.21,1.09034) (467.42,1.09034)};
\addplot[hline] coordinates {(72,1.09009) (72,1.12405)};
\addplot[hline] coordinates {(381,1.09009) (381,1.12405)};

% candles: wick, body, hollow inside of the rising ones
\segplot{black}{0.5pt}{\wickpath}
\segplot{black}{1.5pt}{\bodypath}
\segplot{white}{0.55pt}{\hollowpath}

% arrows and crosses left on the chart
\addplot[only marks, forget plot, mark=text, text mark={\dej ⇧}, text mark as node=true, text mark style={text=purered, font=\fontsize{8.5pt}{9pt}\selectfont, inner sep=0pt}] coordinates {(23.9,1.10973) (121.8,1.10723)};
\addplot[only marks, forget plot, mark=text, text mark={\dej ⇩}, text mark as node=true, text mark style={text=purered, font=\fontsize{8.5pt}{9pt}\selectfont, inner sep=0pt}] coordinates {(104.6,1.11241) (217.6,1.10632)};
\addplot[only marks, forget plot, mark=text, text mark={\dej ✖}, text mark as node=true, text mark style={text=purered, font=\fontsize{4.5pt}{5pt}\selectfont, inner sep=0pt}] coordinates {(143.9,1.10376) (266.9,1.09935)};
\addplot[only marks, forget plot, color=gray!60, mark=triangle*, mark size=2pt, mark options={rotate=180, fill=gray!60, draw=gray!60}] coordinates {(401.4,1.12394)};
\end{axis}
\end{tikzpicture}
\end{document}
